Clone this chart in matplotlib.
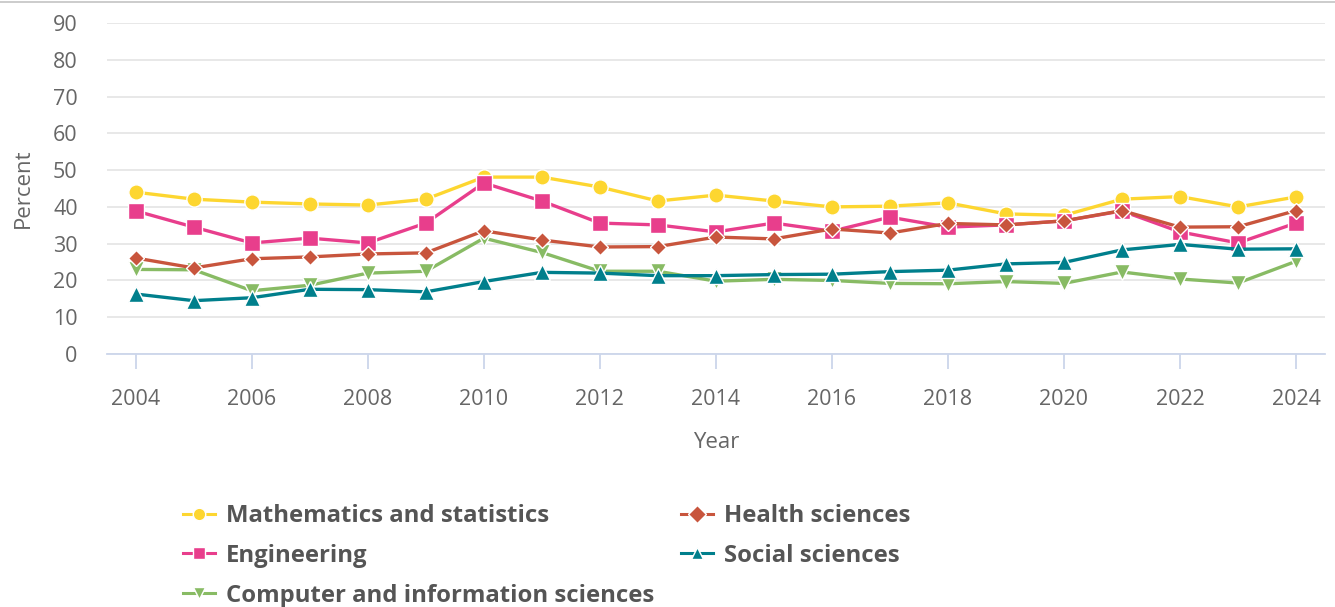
import matplotlib.pyplot as plt
from matplotlib.lines import Line2D

plt.rcParams['font.family'] = ['Open Sans', 'DejaVu Sans']

years = list(range(2004, 2025))

math_stats = [44.0, 42.1, 41.3, 40.8, 40.5, 42.1, 48.1, 48.1, 45.4, 41.6, 43.2,
              41.6, 40.0, 40.2, 41.1, 38.1, 37.7, 42.1, 42.8, 40.0, 42.7]
engineering = [38.9, 34.5, 30.2, 31.5, 30.2, 35.6, 46.5, 41.6, 35.6, 35.1, 33.2,
               35.6, 33.4, 37.2, 34.5, 35.1, 36.2, 38.9, 33.2, 30.2, 35.6]
health = [26.1, 23.4, 25.9, 26.4, 27.2, 27.5, 33.5, 31.0, 29.1, 29.2, 31.8,
          31.3, 34.0, 32.9, 35.5, 35.1, 36.2, 39.0, 34.5, 34.6, 39.0]
social = [16.3, 14.5, 15.3, 17.6, 17.5, 16.9, 19.7, 22.2, 22.0, 21.3, 21.3,
          21.6, 21.7, 22.4, 22.8, 24.5, 24.9, 28.3, 29.8, 28.5, 28.6]
computer = [23.0, 22.9, 17.2, 18.7, 22.0, 22.5, 31.5, 27.6, 22.5, 22.5, 19.8,
            20.3, 20.0, 19.2, 19.1, 19.7, 19.2, 22.3, 20.4, 19.3, 25.2]

series = [
    ('Mathematics and statistics', math_stats, '#fdd630', 'o', 11),
    ('Engineering', engineering, '#e83e8c', 's', 11),
    ('Computer and information sciences', computer, '#88bb64', 'v', 11),
    ('Health sciences', health, '#c8553d', 'D', 8.5),
    ('Social sciences', social, '#007f8c', '^', 11),
]

fig = plt.figure(figsize=(13.35, 6.07), dpi=100)
ax = fig.add_axes([0.080, 0.4168, 0.9125, 0.5453])

# draw order: bottom to top like the original
draw_order = [4, 2, 3, 1, 0]
handles = {}
for i in draw_order:
    name, vals, col, mk, ms = series[i]
    h, = ax.plot(years, vals, color=col, lw=2.4, marker=mk, markersize=ms,
                 markeredgecolor='white', markeredgewidth=1.0, label=name, zorder=3 + i)
    handles[i] = h

ax.set_xlim(2003.5, 2024.5)
ax.set_ylim(0, 90)
ax.set_yticks(range(0, 91, 10))
ax.set_xticks(range(2004, 2025, 2))
ax.grid(axis='y', color='#e6e6e6', lw=1.3)
ax.set_axisbelow(True)
for s in ['top', 'right', 'left']:
    ax.spines[s].set_visible(False)
ax.spines['bottom'].set_color('#ccd6eb')
ax.spines['bottom'].set_linewidth(1.3)
ax.tick_params(axis='y', length=0, labelsize=15.5, labelcolor='#666666', pad=21)
ax.tick_params(axis='x', length=11, width=1.3, color='#ccd6eb', labelsize=15.5,
               labelcolor='#666666', pad=14)
ax.set_xlabel('Year', fontsize=16, color='#666666', labelpad=16)
ax.set_ylabel('Percent', fontsize=16, color='#666666', labelpad=14)

fig.add_artist(Line2D([0, 1], [1 - 2 / 607, 1 - 2 / 607], color='#c4c4c4', lw=1.2))

leg = fig.legend([handles[i] for i in range(5)], [series[i][0] for i in range(5)],
                 loc='upper left', bbox_to_anchor=(183 / 1335, 1 - 504 / 607), ncol=2,
                 frameon=False, handlelength=1.35, handletextpad=0.45,
                 columnspacing=1.1, labelspacing=0.66, borderpad=0, borderaxespad=0,
                 prop={'size': 17.2, 'weight': 'bold'})
for t in leg.get_texts():
    t.set_color('#555555')
for lh in leg.legend_handles:
    lh.set_markersize(9)
    lh.set_linewidth(2.2)

fig.savefig('out.png', dpi=100)
